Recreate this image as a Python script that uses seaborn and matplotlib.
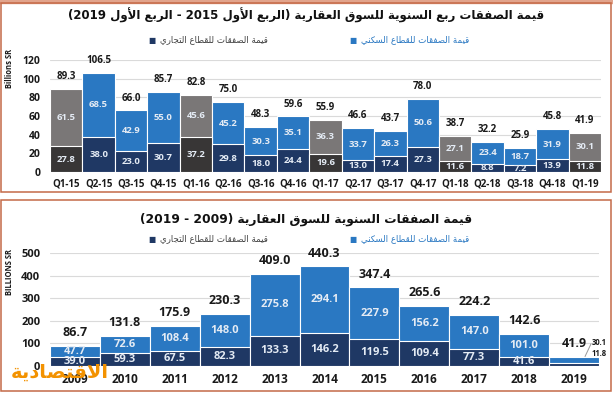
import re
import matplotlib
matplotlib.use("Agg")
import matplotlib.pyplot as plt
from matplotlib.patches import Rectangle
import pandas as pd
import seaborn as sns

# quarterly values (billions SR)
quarters = ["Q1-15", "Q2-15", "Q3-15", "Q4-15", "Q1-16", "Q2-16", "Q3-16", "Q4-16", "Q1-17",
            "Q2-17", "Q3-17", "Q4-17", "Q1-18", "Q2-18", "Q3-18", "Q4-18", "Q1-19"]
q_commercial = [27.8, 38.0, 23.0, 30.7, 37.2, 29.8, 18.0, 24.4, 19.6, 13.0, 17.4, 27.3, 11.6, 8.8, 7.2, 13.9, 11.8]
q_residential = [61.5, 68.5, 42.9, 55.0, 45.6, 45.2, 30.3, 35.1, 36.3, 33.7, 26.3, 50.6, 27.1, 23.4, 18.7, 31.9, 30.1]
q_totals = [89.3, 106.5, 66.0, 85.7, 82.8, 75.0, 48.3, 59.6, 55.9, 46.6, 43.7, 78.0, 38.7, 32.2, 25.9, 45.8, 41.9]

# yearly values (billions SR)
years = ["2009", "2010", "2011", "2012", "2013", "2014", "2015", "2016", "2017", "2018", "2019"]
y_commercial = [39.0, 59.3, 67.5, 82.3, 133.3, 146.2, 119.5, 109.4, 77.3, 41.6, 11.8]
y_residential = [47.7, 72.6, 108.4, 148.0, 275.8, 294.1, 227.9, 156.2, 147.0, 101.0, 30.1]
y_totals = [86.7, 131.8, 175.9, 230.3, 409.0, 440.3, 347.4, 265.6, 224.2, 142.6, 41.9]

title_q = "قيمة الصفقات ربع السنوية للسوق العقارية (الربع الأول 2015 - الربع الأول 2019)"
title_y = "قيمة الصفقات السنوية للسوق العقارية (2009 - 2019)"
leg_com = "قيمة الصفقات للقطاع التجاري"
leg_res = "قيمة الصفقات للقطاع السكني"
logo = "الاقتصادية"

BLUE = "#2a78c2"
NAVY = "#1f3864"
GREY = "#7a7777"
DARK = "#383636"
BORDER = "#c46a48"

# arabic contextual forms: isolated, final, initial, medial
FORMS = {
    "ا": (0xFE8D, 0xFE8E, None, None), "أ": (0xFE83, 0xFE84, None, None),
    "ب": (0xFE8F, 0xFE90, 0xFE91, 0xFE92), "ة": (0xFE93, 0xFE94, None, None),
    "ت": (0xFE95, 0xFE96, 0xFE97, 0xFE98), "ج": (0xFE9D, 0xFE9E, 0xFE9F, 0xFEA0),
    "د": (0xFEA9, 0xFEAA, None, None), "ر": (0xFEAD, 0xFEAE, None, None),
    "س": (0xFEB1, 0xFEB2, 0xFEB3, 0xFEB4), "ص": (0xFEB9, 0xFEBA, 0xFEBB, 0xFEBC),
    "ط": (0xFEC1, 0xFEC2, 0xFEC3, 0xFEC4), "ع": (0xFEC9, 0xFECA, 0xFECB, 0xFECC),
    "ف": (0xFED1, 0xFED2, 0xFED3, 0xFED4), "ق": (0xFED5, 0xFED6, 0xFED7, 0xFED8),
    "ك": (0xFED9, 0xFEDA, 0xFEDB, 0xFEDC), "ل": (0xFEDD, 0xFEDE, 0xFEDF, 0xFEE0),
    "م": (0xFEE1, 0xFEE2, 0xFEE3, 0xFEE4), "ن": (0xFEE5, 0xFEE6, 0xFEE7, 0xFEE8),
    "و": (0xFEED, 0xFEEE, None, None), "ي": (0xFEF1, 0xFEF2, 0xFEF3, 0xFEF4),
    "\ue000": (0xFEFB, 0xFEFC, None, None), "\ue001": (0xFEF7, 0xFEF8, None, None),
}


def ar(text):
    # shape letters and put them in visual order for matplotlib
    text = text.replace("لا", "\ue000").replace("لأ", "\ue001")
    out = []
    for i, ch in enumerate(text):
        if ch not in FORMS:
            out.append(ch)
            continue
        f = FORMS[ch]
        prev = text[i - 1] if i > 0 else ""
        nxt = text[i + 1] if i + 1 < len(text) else ""
        a = prev in FORMS and FORMS[prev][2] is not None
        b = f[2] is not None and nxt in FORMS
        code = f[3] if a and b else f[1] if a else f[2] if b else f[0]
        out.append(chr(code))
    s = "".join(out)[::-1]
    s = re.sub(r"\d+", lambda m: m.group(0)[::-1], s)
    return s.translate(str.maketrans("()", ")("))


sns.set_theme(style="white")
plt.rcParams["font.family"] = ["Open Sans", "DejaVu Sans"]
AR = ["DejaVu Sans"]

fig = plt.figure(figsize=(6.13, 3.93), dpi=100)
W, H = 613, 393


def fx(px):
    return px / W


def fy(py):
    return 1 - py / H


# panel frames
fig.patches.append(Rectangle((0, fy(3)), 1, 3 / H, transform=fig.transFigure, color="#e2a48c", zorder=0))
fig.patches.append(Rectangle((fx(1.5), fy(192)), fx(609), 189 / H, transform=fig.transFigure,
                             fill=False, edgecolor=BORDER, linewidth=1.1))
fig.patches.append(Rectangle((fx(1.5), fy(391)), fx(609), 191 / H, transform=fig.transFigure,
                             fill=False, edgecolor=BORDER, linewidth=1.1))

ax1 = fig.add_axes([fx(50), fy(172), fx(551), 112 / H])
ax2 = fig.add_axes([fx(50), fy(366), fx(549), 113 / H])


def stacked(ax, cats, low, high, low_colors, high_colors):
    df = pd.DataFrame({"cat": cats, "low": low, "high": high})
    df["stack"] = df["low"] + df["high"]
    for col, pal in [("stack", high_colors), ("low", low_colors)]:
        sns.barplot(data=df, x="cat", y=col, hue="cat", palette=pal, width=1, dodge=False,
                    saturation=1, legend=False, edgecolor="white", linewidth=0.8, ax=ax, zorder=2)


def style_axis(ax, ymax, step, fs_y, fs_x):
    ax.set_ylim(0, ymax)
    ax.set_xlim(-0.5, len(ax.get_xticks()) - 0.5)
    ax.set_yticks(range(0, ymax + 1, step))
    ax.grid(axis="y", color="#dadada", linewidth=0.8, zorder=0)
    ax.set_axisbelow(True)
    sns.despine(ax=ax, left=True, bottom=True)
    ax.tick_params(axis="y", length=0, pad=7, labelsize=fs_y, labelcolor="#1a1a1a")
    ax.tick_params(axis="x", length=0, pad=5, labelsize=fs_x, labelcolor="#1a1a1a")
    for lab in ax.get_yticklabels() + ax.get_xticklabels():
        lab.set_fontweight("bold")
    ax.set_xlabel("")
    ax.set_ylabel("")


# top: quarterly
is_q1 = [q.startswith("Q1") for q in quarters]
stacked(ax1, quarters, q_commercial, q_residential,
        [DARK if g else NAVY for g in is_q1], [GREY if g else BLUE for g in is_q1])
style_axis(ax1, 120, 20, 7.5, 7)
for i, (c, r, t) in enumerate(zip(q_commercial, q_residential, q_totals)):
    ax1.text(i, c / 2, f"{c:.1f}", ha="center", va="center", fontsize=6.8, fontweight="bold", color="#e4ebf4")
    ax1.text(i, c + r / 2, f"{r:.1f}", ha="center", va="center", fontsize=6.8, fontweight="bold", color="#e4ebf4")
    ax1.annotate(f"{t:.1f}", (i, c + r), xytext=(0, 5), textcoords="offset points", ha="center",
                 va="bottom", fontsize=7, fontweight="bold", color="#1a1a1a", annotation_clip=False)

# bottom: yearly
stacked(ax2, years, y_commercial, y_residential, [NAVY] * len(years), [BLUE] * len(years))
style_axis(ax2, 500, 100, 8, 8.5)
last = len(years) - 1
for i, (c, r, t) in enumerate(zip(y_commercial, y_residential, y_totals)):
    ax2.annotate(f"{t:.1f}", (i, c + r), xytext=(0, 5), textcoords="offset points", ha="center",
                 va="bottom", fontsize=9, fontweight="bold", color="#1a1a1a", annotation_clip=False)
    if i == last:
        continue
    ax2.text(i, c / 2, f"{c:.1f}", ha="center", va="center", fontsize=8, fontweight="bold", color="#e4ebf4")
    ax2.text(i, c + r / 2, f"{r:.1f}", ha="center", va="center", fontsize=8, fontweight="bold", color="#e4ebf4")
ax2.plot([last + 0.22, last + 0.34], [y_totals[last], 98], color="#9a9a9a", linewidth=0.7, clip_on=False)
ax2.text(last + 0.36, 103, f"{y_residential[last]:.1f}", ha="left", va="center", fontsize=5.5,
         fontweight="bold", color="#1a1a1a")
ax2.text(last + 0.36, 55, f"{y_commercial[last]:.1f}", ha="left", va="center", fontsize=5.5,
         fontweight="bold", color="#1a1a1a")

# titles and legends
for ty, ly, title, fs in [(15, 40, title_q, 8.5), (219, 239, title_y, 8.8)]:
    fig.text(0.5, fy(ty), ar(title), ha="center", va="center", fontsize=fs, fontweight="bold",
             family=AR, color="#111111")
    fig.text(fx(152), fy(ly), "■", ha="center", va="center", fontsize=5.5, color=NAVY, family=AR)
    fig.text(fx(160), fy(ly), ar(leg_com), ha="left", va="center", fontsize=6.2, family=AR, color="#404040")
    fig.text(fx(353), fy(ly), "■", ha="center", va="center", fontsize=5.5, color=BLUE, family=AR)
    fig.text(fx(361), fy(ly), ar(leg_res), ha="left", va="center", fontsize=6.2, family=AR, color=BLUE)

fig.text(fx(10), fy(68), "Billions SR", rotation=90, ha="center", va="center", fontsize=5.5,
         fontweight="bold", color="#1a1a1a")
fig.text(fx(10), fy(272), "BILLIONS SR", rotation=90, ha="center", va="center", fontsize=5.5,
         fontweight="bold", color="#1a1a1a")

# newspaper logo
fig.text(fx(60), fy(372), ar(logo), ha="center", va="center", fontsize=14, fontweight="bold",
         family=AR, color="#f39200", zorder=10)

fig.savefig("out.png", dpi=100)
